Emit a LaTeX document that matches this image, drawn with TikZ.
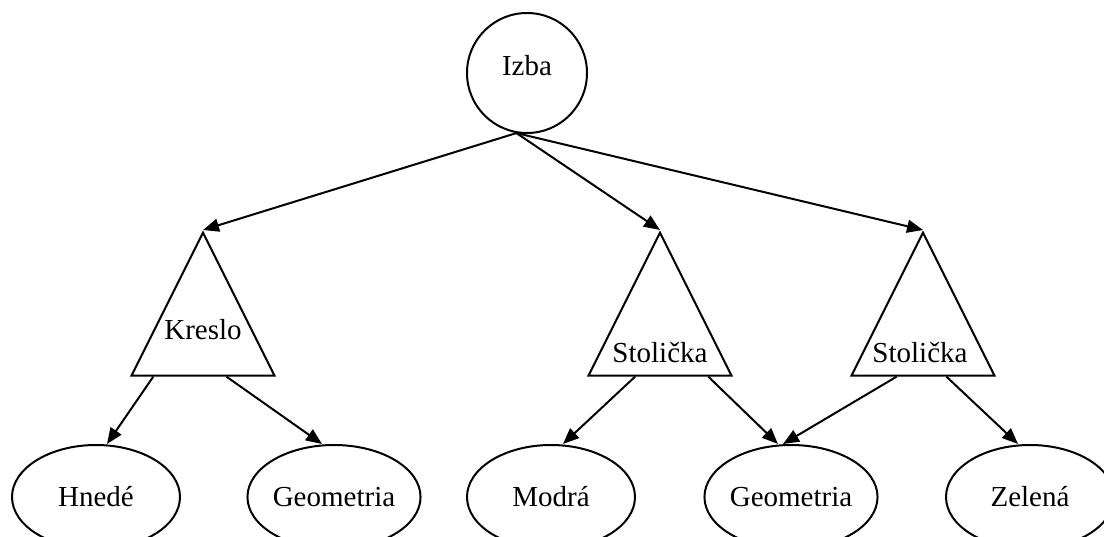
\documentclass[tikz,border=0pt]{standalone}
\usepackage{fontspec}
\setmainfont{Liberation Serif}
\usetikzlibrary{%
  arrows.meta,%
  calc,%
  shapes.geometric%
}
\tikzset{>={Triangle[length=16pt,width=13pt]}}
\tikzset{
  uzol/.style={draw,line width=2pt,inner sep=0pt,font=\fontsize{29}{34}\selectfont},
  kruh/.style={uzol,circle,minimum size=120pt},
  elipsa/.style={uzol,ellipse,minimum width=168pt,minimum height=104pt},
  trojuholnik/.style={uzol,isosceles triangle,shape border rotate=90,
    isosceles triangle stretches,minimum width=143pt,minimum height=143pt,
    anchor=apex},
  popis/.style={inner sep=0pt,font=\fontsize{29}{34}\selectfont},
  hrana/.style={->,line width=2pt}
}

\begin{document}
\begin{tikzpicture}[x=1pt,y=-1pt]
        \clip (0,0) rectangle (1104,537);
        % koren
        \node[kruh,text depth=16pt] (izba) at (527,73) {Izba};
        % nabytok
        \node[trojuholnik] (kreslo) at (203,230) {};
        \node[trojuholnik] (stolicka1) at (660,230) {};
        \node[trojuholnik] (stolicka2) at (923,230) {};
        \node[popis] (kreslo-popis) at (203,330) {Kreslo};
        \node[popis] (stolicka1-popis) at (660,353) {Stolička};
        \node[popis] (stolicka2-popis) at (920,353) {Stolička};
        % vlastnosti
        \node[elipsa] (hnede) at (96,497) {Hnedé};
        \node[elipsa] (geometria1) at (334,497) {Geometria};
        \node[elipsa] (modra) at (551,497) {Modrá};
        \node[elipsa] (geometria2) at (791,497) {Geometria};
        \node[elipsa] (zelena) at (1030,497) {Zelená};
        \draw[hrana] (izba.260) -- (kreslo.apex);
        \draw[hrana] (izba.260) -- (stolicka1.apex);
        \draw[hrana] (izba.260) -- (stolicka2.apex);
        \draw[hrana] ($(kreslo.left corner)!0.16!(kreslo.right corner)$)
        -- ($(hnede.north)+(11,0)$);
        \draw[hrana] ($(kreslo.left corner)!0.66!(kreslo.right corner)$)
        -- ($(geometria1.north)+(-12,0)$);
        \draw[hrana] ($(stolicka1.left corner)!0.33!(stolicka1.right corner)$)
        -- ($(modra.north)+(12,0)$);
        \draw[hrana] ($(stolicka1.left corner)!0.83!(stolicka1.right corner)$)
        -- ($(geometria2.north)+(-13,0)$);
        \draw[hrana] ($(stolicka2.left corner)!0.32!(stolicka2.right corner)$)
        -- ($(geometria2.north)+(-8,0)$);
        \draw[hrana] ($(stolicka2.left corner)!0.66!(stolicka2.right corner)$)
        -- ($(zelena.north)+(-12,0)$);
      \end{tikzpicture}
\end{document}
